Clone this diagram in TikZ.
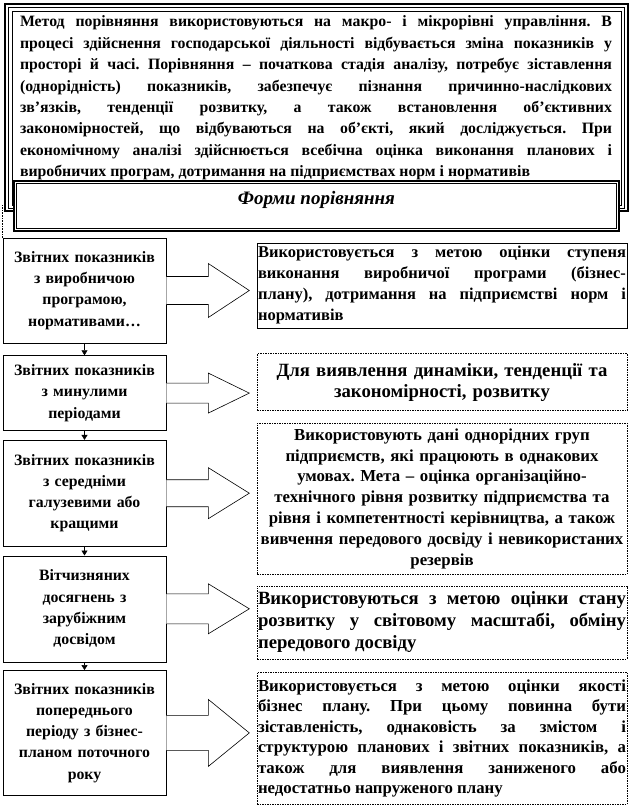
\documentclass[tikz,border=0pt]{standalone}
\usepackage{fontspec}
\setmainfont{Liberation Serif}
\usetikzlibrary{arrows.meta,positioning,calc}
\frenchspacing

\begin{document}
\begin{tikzpicture}[
    x=1pt, y=-1pt,
    intro/.style={text width=592pt, align=justify, inner sep=0pt, font=\fontsize{15.8}{21.4}\selectfont\bfseries},
    lbox/.style={draw, line width=0.6pt, fill=white, minimum width=163pt, text width=159pt, inner xsep=2pt, align=center, font=\fontsize{15.8}{21.3}\selectfont\bfseries},
    rbox/.style={draw, line width=0.6pt, dash pattern=on 1.5pt off 1pt, fill=white, minimum width=370pt, text width=368pt, inner xsep=1pt, font=\fontsize{16.8}{20.4}\selectfont\bfseries},
    blk/.style={draw, line width=0.6pt, fill=white, line join=miter},
    down/.style={-{Triangle[length=5pt,width=6pt]}, line width=0.6pt}
]
\useasboundingbox (0,0) rectangle (630,806);

% top frame
\draw[line width=2pt] (5,4) rectangle (628,211);
\draw[line width=0.8pt] (8.5,7.5) rectangle (624.5,208);
\draw[line width=0.8pt] (12,11) rectangle (621,205.5);

\node[intro] (intro) at (316,98) {Метод порівняння використовуються на макро- і мікрорівні управління. В\linebreak
процесі здійснення господарської діяльності відбувається зміна показників у\linebreak
просторі й часі. Порівняння – початкова стадія аналізу, потребує зіставлення\linebreak
(однорідність) показників, забезпечує пізнання причинно-наслідкових\linebreak
зв’язків, тенденції розвитку, а також встановлення об’єктивних\linebreak
закономірностей, що відбуваються на об’єкті, який досліджується. При\linebreak
економічному аналізі здійснюється всебічна оцінка виконання планових і\linebreak
виробничих програм, дотримання на підприємствах норм і нормативів};

% title
\node[draw, line width=2pt, fill=white, minimum width=605pt, minimum height=50pt, text height=13pt, text depth=17pt, font=\fontsize{19}{21}\selectfont\bfseries\itshape] (title) at (316.5,206) {Форми порівняння};
\draw[line width=0.6pt] ($(title.north west)+(3.5,3.5)$) rectangle ($(title.south east)+(-3.5,-3.5)$);

% left column
\node[lbox, minimum height=105pt] (l1) at (84.5,290.5) {Звітних показників\\ з виробничою\\ програмою,\\ нормативами…};
\node[lbox, minimum height=75pt, below=12pt of l1] (l2) {Звітних показників\\ з минулими\\ періодами};
\node[lbox, minimum height=106pt, below=9pt of l2] (l3) {Звітних показників\\ з середніми\\ галузевими або\\ кращими};
\node[lbox, minimum height=106pt, below=9pt of l3] (l4) {Вітчизняних\\ досягнень з\\ зарубіжним\\ досвідом};
\node[lbox, minimum height=125pt, below=8pt of l4] (l5) {Звітних показників\\ попереднього\\ періоду з бізнес-\\ планом поточного\\ року};

\draw[densely dotted, line width=0.6pt] (l1.north west) -- ++(0,-33);

\foreach \a/\b in {l1/l2, l2/l3, l3/l4, l4/l5}
  \draw[down] (\a) -- (\b);

% right column
\node[rbox, solid, minimum height=85pt, align=justify, font=\fontsize{16.5}{21}\selectfont\bfseries] (r1) at (442,285.5) {Використовується з метою оцінки ступеня\linebreak
виконання виробничої програми (бізнес-\linebreak
плану), дотримання на підприємстві норм і\linebreak
нормативів};
\node[rbox, minimum height=57pt, below=25pt of r1, align=center, font=\fontsize{18.7}{21}\selectfont\bfseries] (r2) {Для виявлення динаміки, тенденції та\\ закономірності, розвитку};
\node[rbox, minimum height=151pt, below=12pt of r2, align=center, font=\fontsize{16.8}{20.8}\selectfont\bfseries] (r3) {Використовують дані однорідних груп\\ підприємств, які працюють в однакових\\ умовах. Мета – оцінка організаційно-\\ технічного рівня розвитку підприємства та\\ рівня і компетентності керівництва, а також\\ вивчення передового досвіду і невикористаних\\ резервів};
\node[rbox, minimum height=73pt, below=11pt of r3, align=justify, font=\fontsize{18.7}{22}\selectfont\bfseries] (r4) {Використовуються з метою оцінки стану\linebreak
розвитку у світовому масштабі, обміну\linebreak
передового досвіду};
\node[rbox, minimum height=132pt, below=13pt of r4, align=justify] (r5) {Використовується з метою оцінки якості\linebreak
бізнес плану. При цьому повинна бути\linebreak
зіставленість, однаковість за змістом і\linebreak
структурою планових і звітних показників, а\linebreak
також для виявлення заниженого або\linebreak
недостатньо напруженого плану};

% block arrows
\foreach \b/\s/\h in {l1/14/27, l2/10/20, l3/13.5/25.5, l4/15/25, l5/17.5/33.5}
  \draw[blk] ($(\b.east)+(0,-\s)$) -- ++(42,0) -- ++(0,\s-\h) -- ($(\b.east)+(83,0)$)
    -- ($(\b.east)+(42,\h)$) -- ($(\b.east)+(42,\s)$) -- ($(\b.east)+(0,\s)$);
\end{tikzpicture}
\end{document}
